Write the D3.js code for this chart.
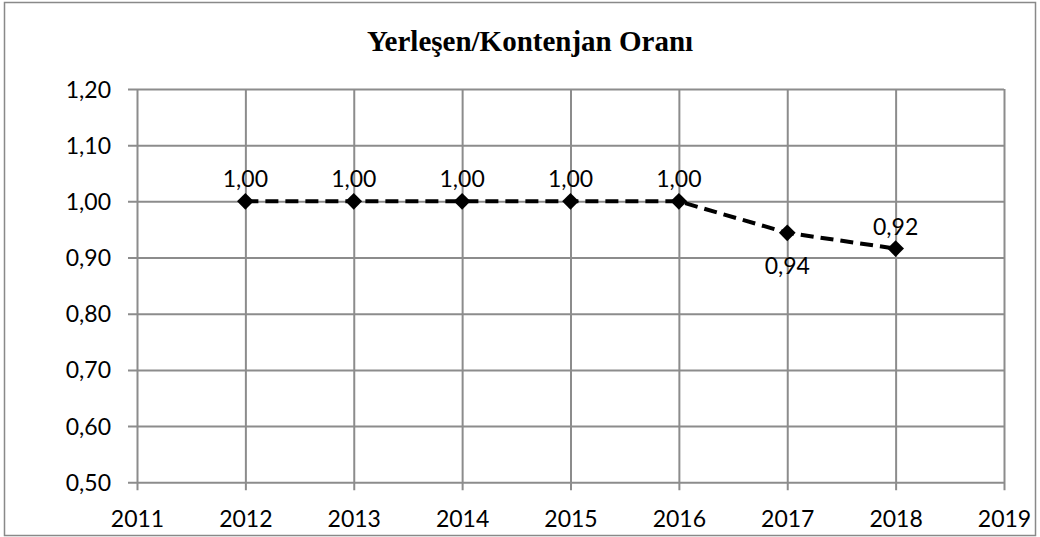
<!DOCTYPE html>
<html>
<head>
<meta charset="utf-8">
<script src="https://cdn.jsdelivr.net/npm/d3@7"></script>
<style>
  html, body { margin: 0; padding: 0; background: #fff; }
  svg { display: block; }
</style>
</head>
<body>
<svg id="chart" width="1040" height="537"></svg>
<script>
const title = "Yerleşen/Kontenjan Oranı";
const years = [2012, 2013, 2014, 2015, 2016, 2017, 2018];
const values = [1.00, 1.00, 1.00, 1.00, 1.00, 0.944, 0.916];
const labelPlacement = ["above", "above", "above", "above", "above", "below", "above"];
const xTicks = [2011, 2012, 2013, 2014, 2015, 2016, 2017, 2018, 2019];
const yTicks = [0.5, 0.6, 0.7, 0.8, 0.9, 1.0, 1.1, 1.2];

const svg = d3.select("#chart");

// outer border
svg.append("rect").attr("x", 4.5).attr("y", 2.5).attr("width", 1031).attr("height", 533)
  .attr("fill", "#fff").attr("stroke", "#898989").attr("stroke-width", 1.5);

const x = d3.scaleLinear().domain([2011, 2019]).range([137, 1004]);
const y = d3.scaleLinear().domain([0.5, 1.2]).range([482.3, 89]);

const fmt = v => d3.format(".2f")(v).replace(".", ",");
const gridColor = "#8c8c8c";
const fontFamily = "Lato, 'Open Sans', sans-serif";
const fs = 23;

// Y grid + axis
const yAxis = d3.axisLeft(y).tickValues(yTicks).tickSize(9).tickFormat(fmt).tickPadding(17);
const gy = svg.append("g").attr("transform", `translate(${x(2011)},0)`).call(yAxis);
gy.select(".domain").remove();
gy.selectAll(".tick line").attr("stroke", gridColor).attr("stroke-width", 2)
  .attr("x2", -9).attr("x1", x(2019) - x(2011));
gy.selectAll(".tick text").attr("font-family", fontFamily).attr("font-size", fs).attr("fill", "#000")
  .attr("dy", "0.35em");

// X grid + axis
const xAxis = d3.axisBottom(x).tickValues(xTicks).tickFormat(d3.format("d")).tickSize(8).tickPadding(20);
const gx = svg.append("g").attr("transform", `translate(0,${y(0.5)})`).call(xAxis);
gx.select(".domain").remove();
gx.selectAll(".tick line").attr("stroke", gridColor).attr("stroke-width", 2)
  .attr("y1", -(y(0.5) - y(1.2))).attr("y2", 8);
gx.selectAll(".tick text").attr("font-family", fontFamily).attr("font-size", fs).attr("fill", "#000");

// Title
svg.append("text").attr("x", 530).attr("y", 51).attr("text-anchor", "middle")
  .attr("font-family", "'Liberation Serif', 'Times New Roman', serif").attr("font-weight", "bold")
  .attr("font-size", 29).attr("fill", "#000").text(title);

const data = years.map((yr, i) => ({ yr, v: values[i], pos: labelPlacement[i] }));

// line
const line = d3.line().x(d => x(d.yr)).y(d => y(d.v));
svg.append("path").datum(data).attr("d", line).attr("fill", "none")
  .attr("stroke", "#000").attr("stroke-width", 4).attr("stroke-dasharray", "13,7");

// markers
svg.selectAll(".m").data(data).enter().append("path")
  .attr("transform", d => `translate(${x(d.yr)},${y(d.v)}) rotate(45)`)
  .attr("d", d3.symbol().type(d3.symbolSquare).size(140))
  .attr("fill", "#000");

// labels
svg.selectAll(".lbl").data(data).enter().append("text")
  .attr("x", d => x(d.yr)).attr("y", d => y(d.v) + (d.pos === "below" ? 41 : -14))
  .attr("text-anchor", "middle").attr("font-family", fontFamily).attr("font-size", fs)
  .attr("fill", "#000").text(d => fmt(d.v));
</script>
</body>
</html>
